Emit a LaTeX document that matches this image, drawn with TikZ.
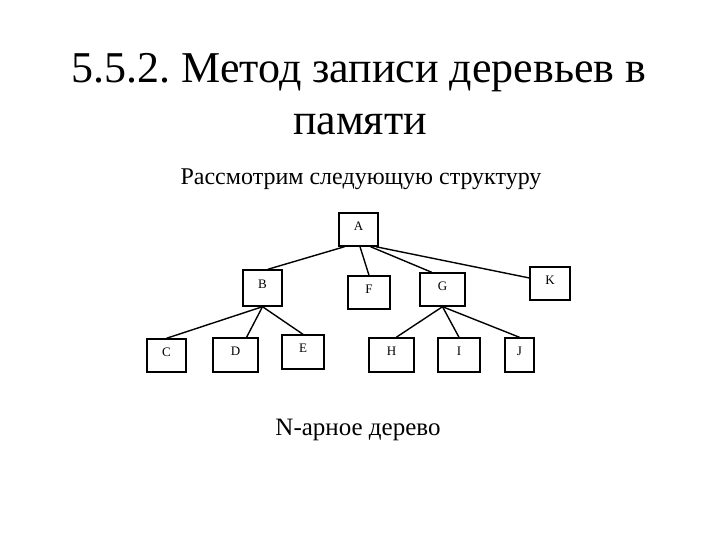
\documentclass[tikz,border=0pt]{standalone}
\usepackage{fontspec}
\setmainfont{Liberation Serif}
\frenchspacing
\begin{document}
\begin{tikzpicture}[x=1pt,y=-1pt,line width=1.4pt,
  tbox/.style={draw,inner sep=0pt,text depth=7pt,font=\fontsize{13}{15}\selectfont}]
\useasboundingbox (0,0) rectangle (720,540);
\node[anchor=base,font=\fontsize{44}{52}\selectfont](title) at (359,83){5.5.2. Метод записи деревьев в};
\node[anchor=base,font=\fontsize{44}{52}\selectfont](title2) at (360,135){памяти};
\node[anchor=base,font=\fontsize{24}{28}\selectfont](sub) at (361,185){Рассмотрим следующую структуру};
\node[anchor=base,font=\fontsize{25}{29}\selectfont](cap) at (358,435){N-арное дерево};
% boxes: name/x/y/width/height
\foreach \nm/\bx/\by/\bw/\bh in {A/358.5/229.5/39/33,B/262.5/288/39/36,F/369/292.5/42/33,
  G/442.5/289.5/45/33,K/550/283.5/40/33,C/166.5/355.5/39/33,D/235.5/355/45/34,
  E/303/352/42/34,H/391.5/355/45/34,I/459/355/42/34,J/519.5/355/29/34}
  {\node[tbox,minimum width=\bw pt,minimum height=\bh pt](\nm) at (\bx,\by){\nm};}
\draw(A.-129)--(B.74);
\draw(A.-85)--(F.north);
\draw(A.-55)--(G.122);
\draw(A.-45)--(K.165);
\foreach \ch/\an in {C/north,D/58,E/north}{\draw(B.south)--(\ch.\an);}
\foreach \ch/\an in {H/75,I/north,J/north}{\draw(G.south)--(\ch.\an);}
\end{tikzpicture}
\end{document}
